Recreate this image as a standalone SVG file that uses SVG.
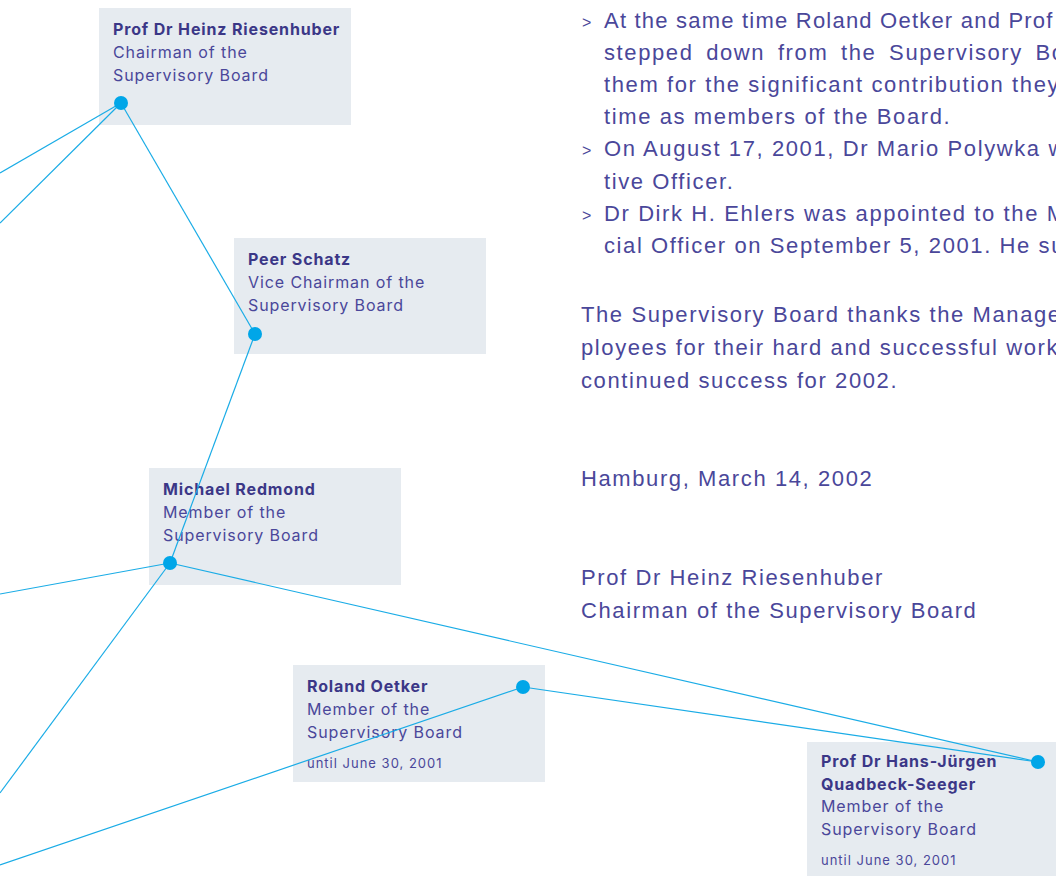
<svg xmlns="http://www.w3.org/2000/svg" width="1056" height="876" viewBox="0 0 1056 876">
<style>
.box{fill:#e6ebf0}
.nm{font-family:Inter,"Liberation Sans",sans-serif;font-weight:700;font-size:16px;letter-spacing:0.85px;fill:#3b3787}
.rl{font-family:Inter,"Liberation Sans",sans-serif;font-size:16px;letter-spacing:0.9px;fill:#4a479a}
.sm{font-family:Inter,"Liberation Sans",sans-serif;font-size:13px;letter-spacing:1px;fill:#4a479a}
.body{font-family:"Liberation Sans",Arial,sans-serif;font-size:22px;letter-spacing:1.6px;fill:#4a479a}
.gt{font-family:"Liberation Sans",Arial,sans-serif;font-size:16px;fill:#4a479a}
.con{stroke:#1aace6;stroke-width:1.2;fill:none}
.dot{fill:#00a6e8}
</style>
<rect width="1056" height="876" fill="#ffffff"/>
<g id="node-riesenhuber">
<rect class="box" x="99" y="8" width="252" height="117"/>
<text class="nm" x="113" y="35">Prof Dr Heinz Riesenhuber</text>
<text class="rl" x="113" y="58">Chairman of the</text>
<text class="rl" x="113" y="81">Supervisory Board</text>
</g>
<g id="node-schatz">
<rect class="box" x="234" y="238" width="252" height="116"/>
<text class="nm" x="248" y="265">Peer Schatz</text>
<text class="rl" x="248" y="288">Vice Chairman of the</text>
<text class="rl" x="248" y="311">Supervisory Board</text>
</g>
<g id="node-redmond">
<rect class="box" x="149" y="468" width="252" height="117"/>
<text class="nm" x="163" y="495">Michael Redmond</text>
<text class="rl" x="163" y="518">Member of the</text>
<text class="rl" x="163" y="541">Supervisory Board</text>
</g>
<g id="node-oetker">
<rect class="box" x="293" y="665" width="252" height="117"/>
<text class="nm" x="307" y="692">Roland Oetker</text>
<text class="rl" x="307" y="715">Member of the</text>
<text class="rl" x="307" y="738">Supervisory Board</text>
<text class="sm" x="307" y="768">until June 30, 2001</text>
</g>
<g id="node-quadbeck">
<rect class="box" x="807" y="742" width="260" height="140"/>
<text class="nm" x="821" y="767">Prof Dr Hans-Jürgen</text>
<text class="nm" x="821" y="790">Quadbeck-Seeger</text>
<text class="rl" x="821" y="812">Member of the</text>
<text class="rl" x="821" y="835">Supervisory Board</text>
<text class="sm" x="821" y="865">until June 30, 2001</text>
</g>
<g id="connectors">
<line class="con" x1="121" y1="103" x2="0" y2="173"/>
<line class="con" x1="121" y1="103" x2="0" y2="223"/>
<line class="con" x1="121" y1="103" x2="255" y2="334"/>
<line class="con" x1="255" y1="334" x2="170" y2="563"/>
<line class="con" x1="170" y1="563" x2="0" y2="594"/>
<line class="con" x1="170" y1="563" x2="0" y2="793"/>
<line class="con" x1="170" y1="563" x2="1038" y2="762"/>
<line class="con" x1="523" y1="687" x2="0" y2="865"/>
<line class="con" x1="523" y1="687" x2="1038" y2="762"/>
<circle class="dot" cx="121" cy="103" r="7"/>
<circle class="dot" cx="255" cy="334" r="7"/>
<circle class="dot" cx="170" cy="563" r="7"/>
<circle class="dot" cx="523" cy="687" r="7"/>
<circle class="dot" cx="1038" cy="762" r="7"/>
</g>
<g id="report-text">
<text class="gt" x="582" y="27.5">&gt;</text>
<text class="body" x="604" y="27.5" textLength="450" lengthAdjust="spacing">At the same time Roland Oetker and Prof</text>
<text class="body" x="604" y="59.7" style="word-spacing:5px">stepped down from the Supervisory Bo</text>
<text class="body" x="604" y="91.9">them for the significant contribution they</text>
<text class="body" x="604" y="124.1">time as members of the Board.</text>
<text class="gt" x="582" y="156.3">&gt;</text>
<text class="body" x="604" y="156.3">On August 17, 2001, Dr Mario Polywka w</text>
<text class="body" x="604" y="188.5">tive Officer.</text>
<text class="gt" x="582" y="220.7">&gt;</text>
<text class="body" x="604" y="220.7">Dr Dirk H. Ehlers was appointed to the M</text>
<text class="body" x="604" y="252.9">cial Officer on September 5, 2001. He su</text>
<text class="body" x="581" y="322">The Supervisory Board thanks the Managem</text>
<text class="body" x="581" y="355">ployees for their hard and successful work</text>
<text class="body" x="581" y="388">continued success for 2002.</text>
<text class="body" x="581" y="486">Hamburg, March 14, 2002</text>
<text class="body" x="581" y="585">Prof Dr Heinz Riesenhuber</text>
<text class="body" x="581" y="618">Chairman of the Supervisory Board</text>
</g>
</svg>
